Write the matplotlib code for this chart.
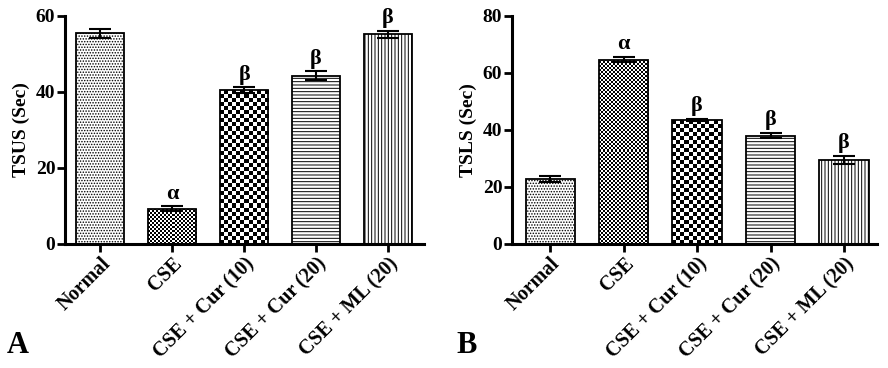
import matplotlib
matplotlib.use("Agg")
import matplotlib.pyplot as plt
import numpy as np

groups = ["Normal", "CSE", "CSE + Cur (10)", "CSE + Cur (20)", "CSE + ML (20)"]

tsus = [55.4, 9.3, 40.5, 44.3, 55.2]
tsus_err = [1.3, 0.6, 0.7, 1.1, 0.9]
tsus_marks = ["", "α", "β", "β", "β"]

tsls = [22.8, 64.7, 43.5, 38.0, 29.5]
tsls_err = [1.0, 0.9, 0.5, 0.9, 1.3]
tsls_marks = ["", "α", "β", "β", "β"]

# fill per group: a hatch string, or a checker cell size in pixels
fills = ["......", 2, 4, "-----", "|||||"]

plt.rcParams["font.family"] = ["Liberation Serif", "DejaVu Serif"]
plt.rcParams["font.weight"] = "bold"
plt.rcParams["hatch.linewidth"] = 0.7

fig = plt.figure(figsize=(8.88, 3.68), dpi=100)
axA = fig.add_axes([0.0732, 0.337, 0.4043, 0.6196])
axB = fig.add_axes([0.5766, 0.337, 0.411, 0.6196])


def checker(ax, patch, cell):
    # checkerboard texture clipped to a bar
    x0, y0 = patch.get_x(), patch.get_y()
    x1, y1 = x0 + patch.get_width(), y0 + patch.get_height()
    (px0, py0), (px1, py1) = ax.transData.transform([(x0, y0), (x1, y1)])
    nx = max(1, int(round(abs(px1 - px0) / cell)))
    ny = max(1, int(round(abs(py1 - py0) / cell)))
    grid = (np.add.outer(np.arange(ny), np.arange(nx)) % 2).astype(float)
    im = ax.imshow(grid, cmap="gray", vmin=0, vmax=1, extent=(x0, x1, y0, y1),
                   origin="lower", aspect="auto", interpolation="nearest", zorder=1)
    im.set_clip_path(patch)


def panel(ax, vals, errs, marks, ymax, ylabel, xlim):
    x = list(range(len(groups)))
    ax.set_ylim(0, ymax)
    ax.set_xlim(*xlim)
    for i in x:
        f = fills[i]
        if isinstance(f, str):
            ax.bar(i, vals[i], width=0.67, color="white", edgecolor="black",
                   hatch=f, linewidth=1.3, zorder=2)
        else:
            b = ax.bar(i, vals[i], width=0.67, color="none", edgecolor="black",
                       linewidth=1.3, zorder=2)
            checker(ax, b[0], f)
    ax.errorbar(x, vals, yerr=errs, fmt="none", ecolor="black",
                elinewidth=1.5, capsize=8, capthick=1.5, zorder=3)
    for i in x:
        if marks[i]:
            ax.text(i, vals[i] + errs[i] + ymax * 0.012, marks[i],
                    ha="center", va="bottom", fontsize=16, fontweight="bold")
    ax.set_ylim(0, ymax)
    ax.set_xlim(*xlim)
    ax.set_yticks(range(0, ymax + 1, 20))
    ax.set_xticks(x)
    ax.set_xticklabels(groups, rotation=45, ha="right", rotation_mode="anchor",
                       fontsize=14.5, fontweight="bold")
    ax.set_ylabel(ylabel, fontsize=14, fontweight="bold", labelpad=4)
    for lab in ax.get_yticklabels():
        lab.set_fontsize(14)
        lab.set_fontweight("bold")
    ax.spines["top"].set_visible(False)
    ax.spines["right"].set_visible(False)
    ax.spines["left"].set_linewidth(2.2)
    ax.spines["bottom"].set_linewidth(2.2)
    ax.tick_params(width=2, length=6, direction="out", pad=1)


panel(axA, tsus, tsus_err, tsus_marks, 60, "TSUS (Sec)", (-0.49, 4.5))
panel(axB, tsls, tsls_err, tsls_marks, 80, "TSLS (Sec)", (-0.52, 4.45))

fig.text(0.008, 0.04, "A", fontsize=22, fontweight="bold")
fig.text(0.514, 0.04, "B", fontsize=22, fontweight="bold")

fig.savefig("out.png", dpi=100)
